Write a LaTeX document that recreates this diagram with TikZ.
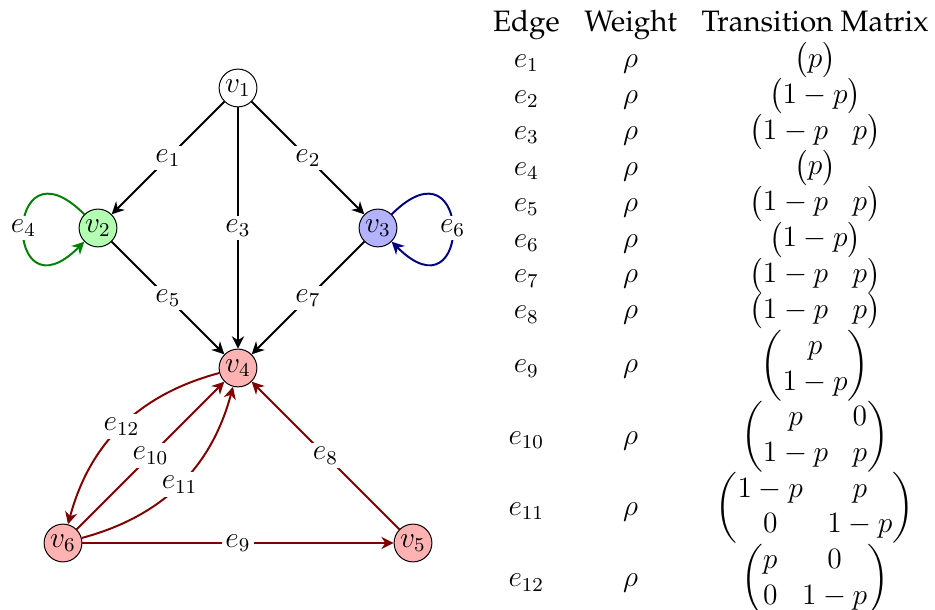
\documentclass[12pt,tikz,border=0pt]{standalone}
\usepackage[T1]{fontenc}
\usepackage{palatino}
\usepackage{amsmath}
\usepackage{tikz}
\usetikzlibrary{arrows.meta}
\setlength{\tabcolsep}{5pt}

\begin{document}
\begin{tikzpicture}[
  vert/.style={circle, draw, minimum size=5.4mm, inner sep=0pt},
  arc/.style={-{Stealth[length=5pt, width=5pt, inset=1.6pt]}, thick},
  elabel/.style={midway, fill=white, text=black, inner sep=1.5pt},
]
\useasboundingbox (-3.4,-3.457) rectangle (9.957,5.257);

% Vertices
\node[vert] (v1) at (0, 4) {$v_1$};
\node[vert, fill=green!30] (v2) at (-2, 2) {$v_2$};
\node[vert, fill=blue!30] (v3) at (2, 2) {$v_3$};
\node[vert, fill=red!30] (v4) at (0, 0) {$v_4$};
\node[vert, fill=red!30] (v6) at (-2.5, -2.5) {$v_6$};
\node[vert, fill=red!30] (v5) at (2.5, -2.5) {$v_5$};

% Upper part
\draw[arc] (v1) -- (v2) node[elabel] {$e_1$};
\draw[arc] (v1) -- (v3) node[elabel] {$e_2$};
\draw[arc] (v1) -- (v4) node[elabel] {$e_3$};
\draw[arc, green!50!black] (v2) to[out=135, in=225, distance=1.64cm] node[elabel] {$e_4$} (v2);
\draw[arc] (v2) -- (v4) node[elabel] {$e_5$};
\draw[arc, blue!50!black] (v3) to[out=45, in=-45, distance=1.64cm] node[elabel] {$e_6$} (v3);
\draw[arc] (v3) -- (v4) node[elabel] {$e_7$};

% Lower part
\draw[arc, red!50!black] (v5) -- (v4) node[elabel] {$e_8$};
\draw[arc, red!50!black] (v6) -- (v5) node[elabel] {$e_9$};
\draw[arc, red!50!black] (v6) -- (v4) node[elabel] {$e_{10}$};
\draw[arc, red!50!black] (v6) to[bend right=30] node[elabel] {$e_{11}$} (v4);
\draw[arc, red!50!black] (v4) to[bend right=30] node[elabel] {$e_{12}$} (v6);

% Table
\node[anchor=north east, inner sep=0pt] (tbl) at (9.871, 5.17) {%
  \begin{tabular}{@{}ccc@{}}
    Edge & Weight & Transition Matrix\\
    $e_1$ & $\rho$ & $\begin{pmatrix} p \end{pmatrix}$\\
    $e_2$ & $\rho$ & $\begin{pmatrix} 1-p \end{pmatrix}$\\
    $e_3$ & $\rho$ & $\begin{pmatrix} 1-p & p \end{pmatrix}$\\
    $e_4$ & $\rho$ & $\begin{pmatrix} p \end{pmatrix}$\\
    $e_5$ & $\rho$ & $\begin{pmatrix} 1-p & p \end{pmatrix}$\\
    $e_6$ & $\rho$ & $\begin{pmatrix} 1-p \end{pmatrix}$\\
    $e_7$ & $\rho$ & $\begin{pmatrix} 1-p & p \end{pmatrix}$\\
    $e_8$ & $\rho$ & $\begin{pmatrix} 1-p & p \end{pmatrix}$\\
    $e_9$ & $\rho$ & $\begin{pmatrix} p \\ 1-p \end{pmatrix}$\\
    $e_{10}$ & $\rho$ & $\begin{pmatrix} p & 0 \\ 1-p & p \end{pmatrix}$\\
    $e_{11}$ & $\rho$ & $\begin{pmatrix} 1-p & p \\ 0 & 1-p \end{pmatrix}$\\
    $e_{12}$ & $\rho$ & $\begin{pmatrix} p & 0 \\ 0 & 1-p \end{pmatrix}$
  \end{tabular}};

\end{tikzpicture}
\end{document}
